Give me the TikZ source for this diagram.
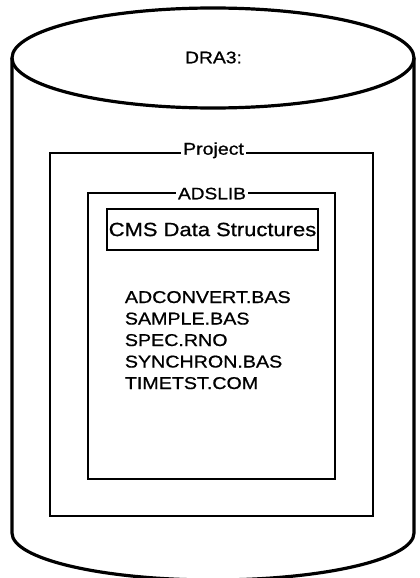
\documentclass[tikz,border=0pt]{standalone}
\usepackage{fontspec}
\newfontfamily\lab[FakeStretch=1.15, FakeBold=0.8]{Liberation Sans}
\begin{document}
\begin{tikzpicture}[x=1pt,y=-1pt,
  disk/.style={line width=3.2pt, line join=round},
  frame/.style={line width=2.8pt},
  tag/.style={fill=white, inner xsep=2.5pt, inner ysep=1pt, anchor=base, font=\lab\fontsize{17}{20}\selectfont},
  fname/.style={anchor=base west, inner sep=0pt, font=\lab\fontsize{17.1}{20}\selectfont}]
\useasboundingbox (0,0) rectangle (420,578);
\clip (0,0) rectangle (420,578);

% the disk drive: top face and body
\draw[disk] (213,58) ellipse [x radius=201, y radius=50];
\draw[disk] (12,58) -- (12,533) arc[start angle=180, end angle=0, x radius=201, y radius=47] -- (414,58);
\node[anchor=base, inner sep=0pt, font=\lab\fontsize{16.8}{20}\selectfont] (dev) at (213.5,63.3) {DRA3:};

% project directory
\draw[frame] (50,153) rectangle (373,516);
\node[tag] (proj) at (213.5,154.7) {Project};

% library directory
\draw[frame] (88,193) rectangle (335,479);
\node[tag, font=\lab\fontsize{16.6}{20}\selectfont] (lib) at (212,199.3) {ADSLIB};

% CMS data structures
\node[draw, line width=1.8pt, minimum width=211pt, minimum height=41pt, inner sep=0pt,
      font=\lab\fontsize{19.1}{22}\selectfont] (cms) at (212.5,229.5) {CMS Data Structures};

% files in the library
\node[fname] (f1) at (124.7,303) {ADCONVERT.BAS};
\node[fname] (f2) at (124.7,324.5) {SAMPLE.BAS};
\node[fname] (f3) at (124.7,346) {SPEC.RNO};
\node[fname] (f4) at (124.7,367.5) {SYNCHRON.BAS};
\node[fname] (f5) at (124.7,389) {TIMETST.COM};
\end{tikzpicture}
\end{document}
